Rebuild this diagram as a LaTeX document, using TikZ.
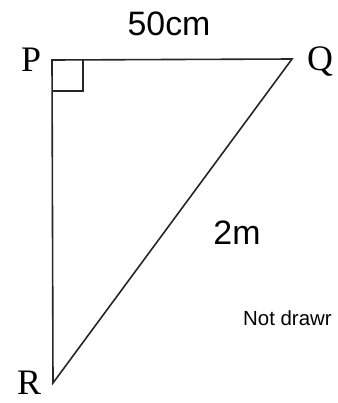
\documentclass[tikz,border=0pt]{standalone}
\usepackage{fontspec}
\setmainfont{Liberation Serif}
\setsansfont{Liberation Sans}
\usetikzlibrary{positioning,calc}

\begin{document}
\begin{tikzpicture}[x=1bp, y=-1bp, side/.style={line width=1.6bp, black!85}, vertex/.style={font=\fontsize{36}{36}\selectfont, inner sep=0pt}, measure/.style={font=\sffamily\fontsize{34}{34}\selectfont, inner sep=0pt}, note/.style={font=\sffamily\fontsize{20.5}{20.5}\selectfont, inner sep=0pt, anchor=west}]
\useasboundingbox (0,0) rectangle (338,403);
\coordinate (P) at (52,60);
\coordinate (Q) at (292,59);
\coordinate (R) at (53,383);
\draw[side] (P) -- (Q) -- (R) -- cycle;
\draw[side] ($(P)+(0,31)$) -- ++(31,0) -- ++(0,-31);
\node[vertex] (lp) at (31,60) {P};
\node[vertex] (lq) at (320,62) {Q};
\node[vertex] (lr) at (29,383) {R};
\node[measure] (pq) at (169,24) {50cm};
\node[measure] (qr) at (237,233) {2m};
\node[note] (nd) at (243,318) {Not drawr};
\end{tikzpicture}
\end{document}
